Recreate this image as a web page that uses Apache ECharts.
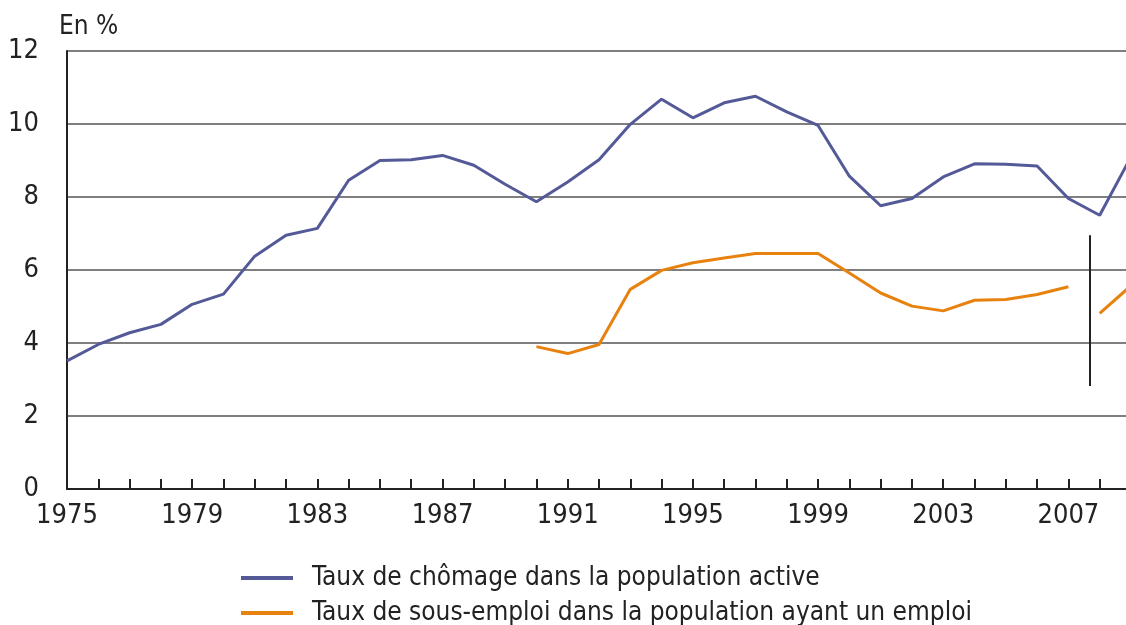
<!DOCTYPE html>
<html>
<head>
<meta charset="utf-8">
<script src="https://cdn.jsdelivr.net/npm/echarts@6/dist/echarts.min.js"></script>
<style>
html, body { margin: 0; padding: 0; background: #fff; }
#main { width: 1126px; height: 625px; }
</style>
</head>
<body>
<div id="main"></div>
<script>
// années 1975 -> 2009
const years = [1975,1976,1977,1978,1979,1980,1981,1982,1983,1984,1985,1986,1987,1988,1989,1990,1991,1992,
  1993,1994,1995,1996,1997,1998,1999,2000,2001,2002,2003,2004,2005,2006,2007,2008,2009]
const chomage = [3.51,3.96,4.28,4.51,5.06,5.34,6.38,6.95,7.14,8.46,9.0,9.02,9.14,8.87,8.35,7.87,8.41,9.02,
  9.99,10.68,10.17,10.58,10.76,10.33,9.96,8.57,7.76,7.96,8.55,8.91,8.9,8.85,7.96,7.5,9.1]
const sousEmploi = [null,null,null,null,null,null,null,null,null,null,null,null,null,null,null,3.9,3.71,3.96,
  5.47,5.99,6.2,6.33,6.45,6.45,6.45,5.92,5.37,5.01,4.88,5.17,5.19,5.33,5.54,4.81,5.57]
const yTicks = [0,2,4,6,8,10,12]
const breakYear = 2007.67   // rupture de série
const breakRange = [2.82, 6.95]

const seriesNames = ['Taux de chômage dans la population active','Taux de sous-emploi dans la population ayant un emploi']
const colors = ['#545a98', '#e8820f']
const font = '"Liberation Sans Narrow","DejaVu Sans Condensed","Liberation Sans",sans-serif'

let myChart = echarts.init(document.getElementById('main'))

let blueData = years.map((y, i) => [y, chomage[i]])
let orangeData = []
years.forEach((y, i) => {
  if (y > breakYear && years[i - 1] < breakYear) orangeData.push([breakYear, null])
  orangeData.push([y, sousEmploi[i]])
})

// une légende par ligne, l'une sous l'autre
const legendTops = [560, 595]
const legends = seriesNames.map((name, i) => ({
  left: 236,
  top: legendTops[i],
  icon: 'rect',
  itemWidth: 52,
  itemHeight: 4,
  selectedMode: false,
  data: [name],
  textStyle: { fontFamily: font, fontSize: 26, color: '#222', padding: [0, 0, 0, 14] }
}))

const option = {
  animation: false,
  title: {
    text: 'En %',
    left: 54,
    top: 9,
    textStyle: { fontFamily: font, fontSize: 26, fontWeight: 'normal', color: '#222' }
  },
  // la grille dépasse un peu à droite : 2009 est coupé
  grid: { left: 67, width: 1064, top: 51, bottom: 136, outerBoundsMode: 'none', containLabel: false },
  legend: legends,
  xAxis: {
    type: 'value',
    min: years[0],
    max: years[years.length - 1],
    interval: 1,
    splitLine: { show: false },
    axisLine: { lineStyle: { color: '#222', width: 2 } },
    axisTick: { inside: true, length: 10, lineStyle: { color: '#222', width: 2 } },
    axisLabel: {
      margin: 13,
      fontFamily: font,
      fontSize: 27,
      color: '#222',
      formatter: v => ((v - 1975) % 4 === 0 && v < 2009 ? String(v) : '')
    }
  },
  yAxis: {
    type: 'value',
    min: yTicks[0],
    max: yTicks[yTicks.length - 1],
    interval: 2,
    axisLine: { show: true, lineStyle: { color: '#222', width: 2 } },
    axisTick: { show: false },
    splitLine: { lineStyle: { color: '#555', width: 1.5 } },
    axisLabel: { margin: 28, fontFamily: font, fontSize: 27, color: '#222' }
  },
  series: [
    {
      name: seriesNames[0],
      type: 'line',
      symbol: 'none',
      data: blueData,
      lineStyle: { color: colors[0], width: 3 },
      itemStyle: { color: colors[0] }
    },
    {
      name: seriesNames[1],
      type: 'line',
      symbol: 'none',
      data: orangeData,
      lineStyle: { color: colors[1], width: 3 },
      itemStyle: { color: colors[1] },
      markLine: {
        silent: true,
        symbol: 'none',
        label: { show: false },
        lineStyle: { color: '#222', width: 2, type: 'solid' },
        data: [[{ coord: [breakYear, breakRange[0]] }, { coord: [breakYear, breakRange[1]] }]]
      }
    }
  ]
}
myChart.setOption(option)
</script>
</body>
</html>
